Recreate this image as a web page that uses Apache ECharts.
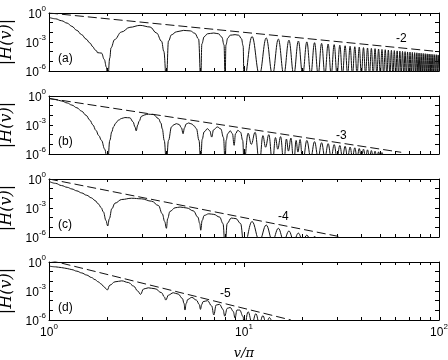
<!DOCTYPE html>
<html>
<head>
<meta charset="utf-8">
<script src="https://cdn.jsdelivr.net/npm/echarts@6/dist/echarts.min.js"></script>
<style>
  html, body { margin: 0; padding: 0; background: #fff; }
  #main { width: 448px; height: 360px; }
</style>
</head>
<body>
<div id="main"></div>
<script>
// curves as [v/pi, log10 |H(v)|]; -7 marks a zero (below the 1e-6 floor)
const curveA = [
  [1, -0.45], [1.08, -0.6], [1.16, -0.8], [1.24, -1.05], [1.31, -1.38], [1.39, -1.8], [1.47, -2.24],
  [1.55, -2.7], [1.62, -3.1], [1.68, -3.5], [1.72, -3.8], [1.76, -3.95], [1.77, -4.1], [1.86, -4.15],
  [1.92, -4.8], [1.97, -5.6], [2, -7],
  [2.05, -4.65], [2.08, -3.6], [2.17, -2.75], [2.35, -1.97], [2.6, -1.48], [2.93, -1.28], [3.3, -1.45],
  [3.56, -2.07], [3.78, -2.93], [3.88, -3.97], [4, -7],
  [4.1, -2.9], [4.25, -2.25], [4.5, -1.95], [4.9, -1.8], [5.3, -1.85], [5.6, -2.1], [5.85, -2.7], [6, -7],
  [6.08, -3.2], [6.25, -2.45], [6.5, -2.15], [7.0, -2.07], [7.4, -2.15], [7.7, -2.5], [7.9, -3.3], [8, -7],
  [8.08, -3.3], [8.25, -2.6], [8.5, -2.3], [9.0, -2.24], [9.4, -2.3], [9.7, -2.65], [9.9, -3.4], [10, -7]
];
const zerosA = [10, 12, 14, 16, 18, 20, 22, 24, 26, 28, 30, 32, 34, 36, 38, 40, 42, 44, 46, 48, 50,
  52, 54, 56, 58, 60, 62, 64, 66, 68, 70, 72, 74, 76, 78, 80, 82, 84, 86, 88, 90, 92, 94, 96, 98, 100];
const peaksA = [-2.43, -2.58, -2.70, -2.81, -2.90, -2.99, -3.07, -3.14, -3.21, -3.27, -3.33, -3.39,
  -3.44, -3.49, -3.53, -3.58, -3.62, -3.66, -3.69, -3.73, -3.77, -3.80, -3.83, -3.86, -3.89, -3.92,
  -3.95, -3.98, -4.00, -4.03, -4.05, -4.08, -4.10, -4.12, -4.15, -4.17, -4.19, -4.21, -4.23, -4.25,
  -4.27, -4.29, -4.31, -4.32, -4.34];

const curveB = [
  [1, -0.24], [1.08, -0.37], [1.16, -0.52], [1.24, -0.72], [1.31, -0.94], [1.39, -1.22], [1.47, -1.57],
  [1.55, -2.0], [1.62, -2.5], [1.68, -3.0], [1.74, -3.55], [1.8, -4.1], [1.86, -4.6], [1.93, -5.5], [2, -7],
  [2.05, -4.6], [2.1, -3.7], [2.14, -3.2], [2.2, -2.8], [2.27, -2.5], [2.36, -2.32], [2.45, -2.23],
  [2.6, -2.26], [2.7, -2.68], [2.76, -3.2], [2.8, -3.6], [2.85, -3.0], [2.9, -2.6], [2.98, -2.1],
  [3.1, -1.95], [3.23, -1.88], [3.43, -1.92], [3.64, -2.33], [3.75, -2.8], [3.81, -3.4], [3.9, -4.6], [4, -7],
  [4.1, -4.6], [4.25, -3.2], [4.35, -3.0], [4.5, -2.86], [4.65, -2.95], [4.78, -3.3], [4.87, -3.9],
  [4.95, -3.3], [5.05, -2.9], [5.2, -2.79], [5.4, -2.9], [5.55, -3.1], [5.7, -3.38], [5.88, -4.6], [6, -7],
  [6.1, -4.5], [6.25, -3.7], [6.5, -3.38], [6.68, -3.6], [6.83, -4.25], [6.98, -3.5], [7.3, -3.2],
  [7.6, -3.4], [7.85, -4.3], [8, -7],
  [8.1, -4.6], [8.25, -3.9], [8.5, -3.6], [8.72, -3.9], [8.9, -5.1], [9.05, -3.9], [9.3, -3.55],
  [9.6, -3.75], [9.85, -4.6], [10, -7],
  [10.5, -3.85], [10.9, -5.0], [11.4, -3.75], [12, -7],
  [12.5, -4.1], [12.9, -5.3], [13.4, -4.0], [14, -7],
  [14.5, -4.3], [14.9, -5.5], [15.4, -4.2], [16, -7],
  [16.5, -4.45], [16.9, -5.7], [17.4, -4.35], [18, -7],
  [18.5, -4.6], [18.9, -5.8], [19.4, -4.5], [20, -7]
];
const zerosB = [20, 22, 24, 26, 28, 30, 32, 34, 36, 38, 40, 42, 44, 46, 48, 50, 52];
const peaksB = [-4.6, -4.72, -4.83, -4.93, -5.03, -5.12, -5.2, -5.28, -5.36, -5.43, -5.5, -5.57,
  -5.64, -5.71, -5.78, -5.85];

const curveC = [
  [1, -0.24], [1.08, -0.45], [1.16, -0.68], [1.24, -0.86], [1.31, -1.03], [1.39, -1.23], [1.47, -1.44],
  [1.56, -1.68], [1.65, -1.95], [1.72, -2.22], [1.79, -2.57], [1.85, -2.95], [1.9, -3.4], [1.96, -4.3],
  [2, -4.86], [2.04, -4.1], [2.1, -3.08], [2.18, -2.5], [2.36, -2.12], [2.65, -1.99], [2.98, -2.05],
  [3.36, -2.3], [3.64, -2.74], [3.81, -3.6], [3.92, -4.4], [4, -5.1], [4.06, -4.1], [4.17, -3.36],
  [4.43, -2.98], [4.7, -2.9], [5.1, -3.0], [5.5, -3.3], [5.8, -3.94], [5.93, -4.6], [6, -5.3],
  [6.1, -4.3], [6.25, -3.77], [6.6, -3.6], [7.0, -3.66], [7.5, -3.94], [7.8, -4.6], [8, -7],
  [8.2, -4.6], [8.6, -4.04], [9.1, -4.1], [9.6, -4.6], [10, -7]
];
const zerosC = [10, 12, 14, 16, 18, 20, 22, 24];
const peaksC = [-4.4, -4.76, -5.1, -5.38, -5.6, -5.8, -5.95];

const curveD = [
  [1, -0.42], [1.08, -0.5], [1.16, -0.58], [1.24, -0.68], [1.31, -0.79], [1.39, -0.95], [1.47, -1.13],
  [1.56, -1.35], [1.65, -1.6], [1.72, -1.82], [1.79, -2.05], [1.85, -2.27], [1.9, -2.5], [1.95, -2.72],
  [1.99, -2.9], [2.05, -2.4], [2.18, -2.05], [2.36, -1.95], [2.55, -2.12], [2.72, -2.5], [2.85, -3.0],
  [2.95, -3.35], [3.05, -2.8], [3.23, -2.67], [3.5, -2.77], [3.78, -3.18], [3.9, -3.6], [3.97, -3.94],
  [4.1, -3.42], [4.34, -3.18], [4.6, -3.32], [4.83, -3.77], [4.93, -4.3], [4.98, -4.97], [5.05, -4.3],
  [5.15, -3.87], [5.4, -3.66], [5.7, -3.94], [5.9, -4.4], [5.98, -4.9], [6.07, -4.4], [6.17, -4.1],
  [6.5, -4.0], [6.83, -4.55], [7.0, -5.48], [7.2, -4.45], [7.5, -4.38], [7.8, -4.9], [7.97, -5.6],
  [8.2, -4.8], [8.5, -4.7], [8.8, -5.1], [9, -5.8], [9.2, -4.97], [9.5, -4.97], [9.9, -5.65], [10, -7]
];
const zerosD = [10, 11, 12, 13, 14];
const peaksD = [-5.15, -5.35, -5.55, -5.75];

// dashed power-law guides, [v/pi, |H|] end points
const guideA = [[1, 1], [100, 1e-4]];
const guideB = [[1, 0.56], [64, 1.5e-6]];
const guideC = [[1, 1], [31.6, 1e-6]];
const guideD = [[1, 1.6], [17.4, 1e-6]];

const tags = ['(a)', '(b)', '(c)', '(d)'];
const slopes = ['-2', '-3', '-4', '-5'];

const FLOOR = -6.4;
function build(trace, zeros, peaks) {
  const pts = trace.slice();
  for (let i = 0; i < peaks.length; i++) {
    pts.push([(zeros[i] + zeros[i + 1]) / 2, peaks[i]]);
    pts.push([zeros[i + 1], FLOOR]);
  }
  return pts.map(p => [p[0], Math.pow(10, p[1])]);
}

const curves = [
  build(curveA, zerosA, peaksA),
  build(curveB, zerosB, peaksB),
  build(curveC, zerosC, peaksC),
  build(curveD, zerosD, peaksD)
];
const guides = [guideA, guideB, guideC, guideD];

const tops = [13, 96, 179, 262];
const H = 58;
const sans = 'Liberation Sans, Arial, sans-serif';
const serif = 'DejaVu Serif, serif';

const rich = {
  b: { fontFamily: sans, fontSize: 12, color: '#000', lineHeight: 16, verticalAlign: 'bottom' },
  s: { fontFamily: sans, fontSize: 8, color: '#000', lineHeight: 10, verticalAlign: 'top' }
};
const powLabel = v => '{b|10}{s|' + Math.round(Math.log10(v)) + '}';

const grid = [], xAxis = [], yAxis = [], series = [], graphic = [];
tops.forEach((t, g) => {
  grid.push({ left: 49, right: 9, top: t, height: H, outerBoundsMode: 'none', containLabel: false });
  ['bottom', 'top'].forEach(pos => {
    xAxis.push({
      type: 'log', logBase: 10, min: 1, max: 100, interval: 1, gridIndex: g, position: pos,
      axisLine: { show: true, lineStyle: { color: '#000', width: 1 } },
      axisTick: { show: true, inside: true, length: 5, lineStyle: { color: '#000' } },
      minorTick: { show: true, splitNumber: 9, length: 3, lineStyle: { color: '#000' } },
      splitLine: { show: false },
      axisLabel: { show: pos === 'bottom' && g === 3, margin: 3, formatter: powLabel, rich: rich },
      name: (pos === 'bottom' && g === 3) ? 'v/π' : '',
      nameLocation: 'middle', nameGap: 27,
      nameTextStyle: { fontFamily: serif, fontStyle: 'italic', fontSize: 13, color: '#000' }
    });
  });
  ['left', 'right'].forEach(pos => {
    yAxis.push({
      type: 'log', logBase: 10, min: 1e-6, max: 1, interval: 1, gridIndex: g, position: pos,
      axisLine: { show: true, lineStyle: { color: '#000', width: 1 } },
      axisTick: { show: true, inside: true, length: 4, lineStyle: { color: '#000' } },
      splitLine: { show: false },
      axisLabel: {
        show: pos === 'left', margin: 3, rich: rich,
        formatter: v => (Math.round(Math.log10(v)) % 3 === 0 ? powLabel(v) : '')
      },
      name: pos === 'left' ? '|H(v)|' : '',
      nameLocation: 'middle', nameGap: 31, nameRotate: 90,
      nameTextStyle: { fontFamily: serif, fontStyle: 'italic', fontSize: 16, color: '#000' }
    });
  });
  series.push({
    type: 'line', xAxisIndex: 2 * g, yAxisIndex: 2 * g, data: curves[g],
    showSymbol: false, smooth: 0.4, smoothMonotone: 'x', clip: true, silent: true,
    lineStyle: { color: '#111', width: 1 }
  });
  series.push({
    type: 'line', xAxisIndex: 2 * g, yAxisIndex: 2 * g, data: guides[g],
    showSymbol: false, clip: true, silent: true,
    lineStyle: { color: '#111', width: 1, type: [9, 4] }
  });
  graphic.push({
    type: 'text', left: 58, top: t + H - 18,
    style: { text: tags[g], font: '12px ' + sans, fill: '#000' }
  });
});

// slope labels next to the guides
const slopePos = [[396, 33], [336, 130], [278, 211], [220, 288]];
slopePos.forEach((p, i) => {
  graphic.push({
    type: 'text', left: p[0], top: p[1],
    style: { text: slopes[i], font: '12px ' + sans, fill: '#000' }
  });
});

const chart = echarts.init(document.getElementById('main'), null, { renderer: 'canvas' });
chart.setOption({
  animation: false,
  backgroundColor: '#fff',
  grid: grid, xAxis: xAxis, yAxis: yAxis, series: series, graphic: graphic
});
</script>
</body>
</html>
